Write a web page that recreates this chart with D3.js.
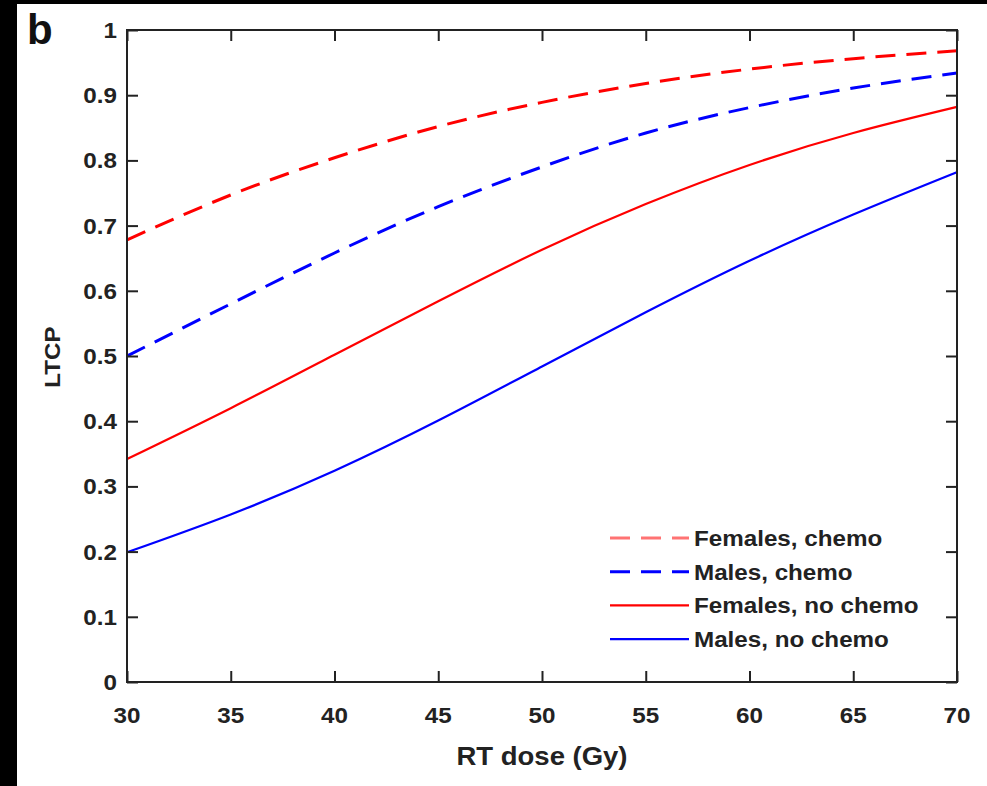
<!DOCTYPE html>
<html><head><meta charset="utf-8">
<script src="https://cdn.jsdelivr.net/npm/d3@7"></script>
<style>html,body{margin:0;padding:0;background:#000;}svg{display:block;}</style>
</head><body>
<script>
const doses = [30, 35, 40, 45, 50, 55, 60, 65, 70];
const femalesChemo   = [0.678, 0.747, 0.804, 0.852, 0.889, 0.918, 0.940, 0.956, 0.968];
const malesChemo     = [0.500, 0.580, 0.658, 0.729, 0.790, 0.842, 0.881, 0.911, 0.934];
const femalesNoChemo = [0.342, 0.420, 0.502, 0.584, 0.663, 0.733, 0.793, 0.842, 0.882];
const malesNoChemo   = [0.199, 0.257, 0.324, 0.401, 0.484, 0.567, 0.646, 0.717, 0.782];
const seriesNames = ["Females, chemo", "Males, chemo", "Females, no chemo", "Males, no chemo"];
const seriesColors = ["#ff0000", "#0000ff", "#ff0000", "#0000ff"];
const seriesDashed = [true, true, false, false];
const xTicks = [30, 35, 40, 45, 50, 55, 60, 65, 70];
const yTicks = [0, 0.1, 0.2, 0.3, 0.4, 0.5, 0.6, 0.7, 0.8, 0.9, 1];
const seriesValues = [femalesChemo, malesChemo, femalesNoChemo, malesNoChemo];

const W = 987, H = 786;
const m = {left: 127, top: 30, right: 957, bottom: 682};
const font = "'Liberation Sans', Arial, Helvetica, sans-serif";
const sx = 1.1;

const svg = d3.select("body").append("svg").attr("width", W).attr("height", H);
svg.append("rect").attr("width", W).attr("height", H).attr("fill", "#000");
svg.append("rect").attr("x", 17).attr("y", 4).attr("width", W - 17).attr("height", H - 4).attr("fill", "#fff");

const x = d3.scaleLinear().domain([30, 70]).range([m.left, m.right]);
const y = d3.scaleLinear().domain([0, 1]).range([m.bottom, m.top]);

// series
const line = d3.line().x(d => x(d[0])).y(d => y(d[1])).curve(d3.curveNatural);
const gLines = svg.append("g");
seriesValues.forEach((vals, i) => {
  gLines.append("path")
    .datum(doses.map((d, j) => [d, vals[j]]))
    .attr("d", line)
    .attr("fill", "none")
    .attr("stroke", seriesColors[i])
    .attr("stroke-width", seriesDashed[i] ? 3 : 2.2)
    .attr("stroke-dasharray", seriesDashed[i] ? "20,11" : null);
});

// axes
function styleAxis(g) {
  g.select(".domain").remove();
  g.selectAll(".tick line").attr("stroke", "#222").attr("stroke-width", 2);
}
const tickLen = 11;
const xAxisB = d3.axisBottom(x).tickValues(xTicks).tickSize(-tickLen).tickFormat("");
const xAxisT = d3.axisTop(x).tickValues(xTicks).tickSize(-tickLen).tickFormat("");
const yAxisL = d3.axisLeft(y).tickValues(yTicks).tickSize(-tickLen).tickFormat("");
const yAxisR = d3.axisRight(y).tickValues(yTicks).tickSize(-tickLen).tickFormat("");
svg.append("g").attr("transform", `translate(0,${m.bottom})`).call(xAxisB).call(styleAxis);
svg.append("g").attr("transform", `translate(0,${m.top})`).call(xAxisT).call(styleAxis);
svg.append("g").attr("transform", `translate(${m.left},0)`).call(yAxisL).call(styleAxis);
svg.append("g").attr("transform", `translate(${m.right},0)`).call(yAxisR).call(styleAxis);
svg.append("rect").attr("x", m.left).attr("y", m.top)
  .attr("width", m.right - m.left).attr("height", m.bottom - m.top)
  .attr("fill", "none").attr("stroke", "#222").attr("stroke-width", 2);

// tick labels
const tickFs = 22;
svg.append("g").selectAll("text").data(xTicks).join("text")
  .attr("transform", d => `translate(${x(d)},${m.bottom + 41}) scale(${sx},1)`)
  .attr("text-anchor", "middle")
  .attr("font-family", font).attr("font-weight", "bold").attr("font-size", tickFs)
  .attr("fill", "#222").text(d => d);
svg.append("g").selectAll("text").data(yTicks).join("text")
  .attr("transform", d => `translate(${m.left - 10},${y(d) + 8}) scale(${sx},1)`)
  .attr("text-anchor", "end")
  .attr("font-family", font).attr("font-weight", "bold").attr("font-size", tickFs)
  .attr("fill", "#222").text(d => d3.format("~g")(d));

// axis titles
svg.append("text")
  .attr("transform", `translate(${(m.left + m.right) / 2},${765}) scale(${sx},1)`)
  .attr("text-anchor", "middle")
  .attr("font-family", font).attr("font-weight", "bold").attr("font-size", 25)
  .attr("fill", "#222").text("RT dose (Gy)");
svg.append("text")
  .attr("transform", `translate(${60},${357}) rotate(-90) scale(${sx},1)`)
  .attr("text-anchor", "middle")
  .attr("font-family", font).attr("font-weight", "bold").attr("font-size", 22)
  .attr("fill", "#222").text("LTCP");

// panel label
svg.append("text")
  .attr("x", 27).attr("y", 44)
  .attr("font-family", font).attr("font-weight", "bold").attr("font-size", 42)
  .attr("fill", "#111").text("b");

// legend
const leg = svg.append("g");
const legY0 = 538, legDy = 33.7;
seriesNames.forEach((name, i) => {
  const yy = legY0 + i * legDy;
  leg.append("line").attr("x1", 610).attr("x2", 689).attr("y1", yy).attr("y2", yy)
    .attr("stroke", seriesColors[i]).attr("stroke-width", seriesDashed[i] ? 3 : 2.2)
    .attr("stroke-opacity", i === 0 ? 0.55 : 1)
    .attr("stroke-dasharray", seriesDashed[i] ? "20,11" : null);
  leg.append("text")
    .attr("transform", `translate(${694},${yy + 8}) scale(${sx},1)`)
    .attr("font-family", font).attr("font-weight", "bold").attr("font-size", 22)
    .attr("fill", "#222").text(name);
});
</script>
</body></html>
